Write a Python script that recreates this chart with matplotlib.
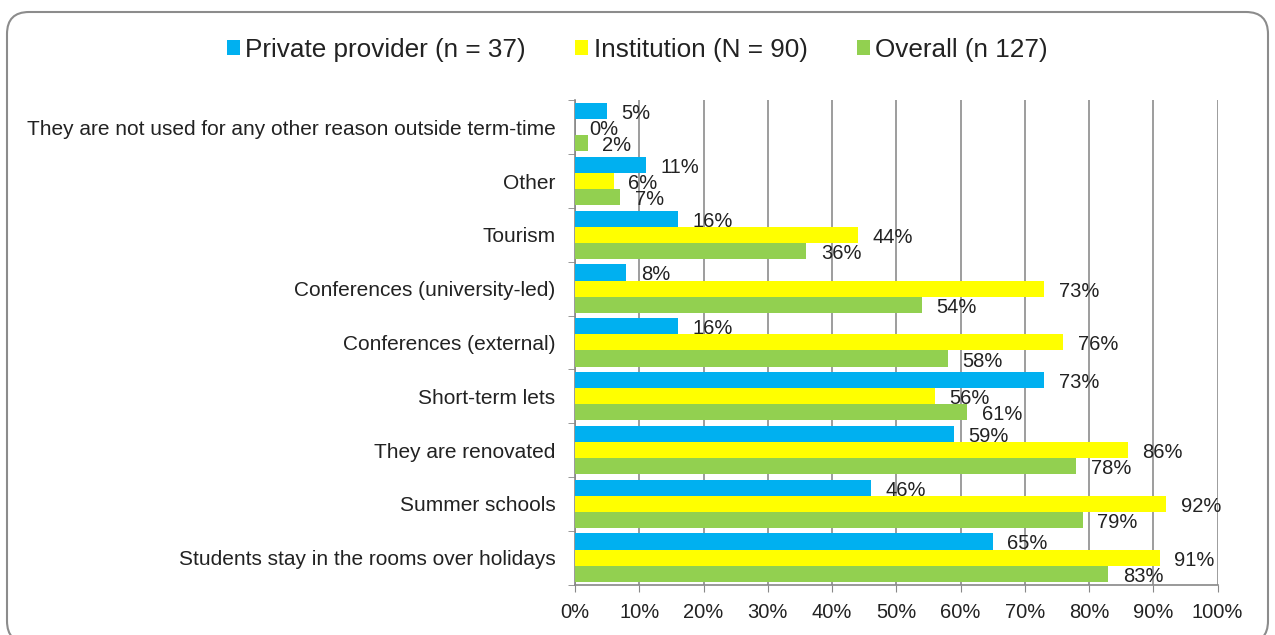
import numpy as np
import matplotlib.pyplot as plt
from matplotlib.patches import FancyBboxPatch
from matplotlib.ticker import FixedLocator, PercentFormatter

plt.rcParams['font.family'] = ['Liberation Sans', 'DejaVu Sans']

categories = [
    'They are not used for any other reason outside term-time',
    'Other',
    'Tourism',
    'Conferences (university-led)',
    'Conferences (external)',
    'Short-term lets',
    'They are renovated',
    'Summer schools',
    'Students stay in the rooms over holidays',
]
private = [5, 11, 16, 8, 16, 73, 59, 46, 65]
institution = [0, 6, 44, 73, 76, 56, 86, 92, 91]
overall = [2, 7, 36, 54, 58, 61, 78, 79, 83]
series_names = ['Private provider (n = 37)', 'Institution (N = 90)', 'Overall (n 127)']
colors = ['#00B0F0', '#FFFF00', '#92D050']

fig = plt.figure(figsize=(12.75, 6.35), dpi=100)
# rounded chart border (display coords)
frame = FancyBboxPatch((7, -8), 1261, 631, boxstyle='round,pad=0,rounding_size=22',
                       transform=None, facecolor='none', edgecolor='#8c8c8c',
                       linewidth=1.5, zorder=-5)
fig.patches.append(frame)

ax = fig.add_axes([0.451, 0.0795, 0.504, 0.7625])
ax.set_facecolor('none')

n = len(categories)
y = np.arange(n)
h = 0.3
for i, (vals, name, c) in enumerate(zip([private, institution, overall], series_names, colors)):
    pos = y + (i - 1) * h
    ax.barh(pos, vals, height=h, color=c, label=name, zorder=3)
    for p, v in zip(pos, vals):
        ax.annotate(f'{v}%', (v, p), xytext=(10.5, -1.8), textcoords='offset points',
                    va='center', ha='left', fontsize=14.5, color='#222222', zorder=4)

ax.set_ylim(n - 0.5, -0.5)
ax.set_xlim(0, 100)
ax.set_yticks(y)
ax.set_yticklabels(categories, fontsize=15, color='#222222')
ax.yaxis.set_minor_locator(FixedLocator(np.arange(-0.5, n, 1)))
ax.tick_params(axis='y', which='major', length=0, pad=14)
ax.tick_params(axis='y', which='minor', length=5, color='#888888')

ax.set_xticks(np.arange(0, 101, 10))
ax.xaxis.set_major_formatter(PercentFormatter(decimals=0))
ax.tick_params(axis='x', length=5, color='#888888', labelsize=14.5, labelcolor='#222222', pad=8)
ax.grid(axis='x', color='#8c8c8c', linewidth=1.2, zorder=0)

for s in ['top', 'right']:
    ax.spines[s].set_visible(False)
for s in ['left', 'bottom']:
    ax.spines[s].set_color('#888888')
    ax.spines[s].set_linewidth(1.2)

fig.legend(loc='center', bbox_to_anchor=(0.5, 0.922), ncol=3, frameon=False,
           fontsize=18.8, handlelength=0.5, handleheight=0.5, handletextpad=0.2,
           columnspacing=1.9, labelcolor='#222222')

fig.savefig('out.png', dpi=100)
